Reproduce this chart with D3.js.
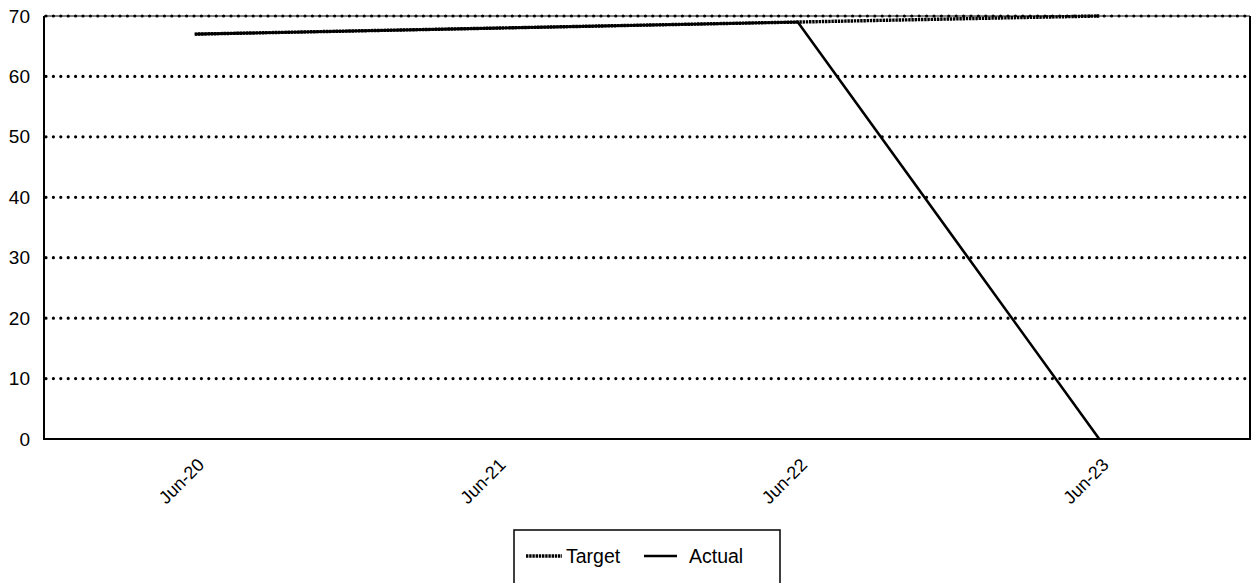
<!DOCTYPE html>
<html>
<head>
<meta charset="utf-8">
<script src="https://cdn.jsdelivr.net/npm/d3@7"></script>
<style>
  html, body { margin: 0; padding: 0; background: #fff; }
  svg text { font-family: "Liberation Sans", Arial, sans-serif; fill: #000; }
</style>
</head>
<body>
<svg id="chart" width="1256" height="583"></svg>
<script>
// Monthly periods on the category axis
const periods = ["Jun-20", "Jun-21", "Jun-22", "Jun-23"];
// Series values
const targetValues = [67, 68, 69, 70];
const actualValues = [67, 68, 69, 0];
// Value axis ticks
const yTicks = [0, 10, 20, 30, 40, 50, 60, 70];

const svg = d3.select("#chart");
const plot = { left: 44, right: 1250, top: 16, bottom: 439 };

const x = d3.scalePoint().domain(periods).range([plot.left, plot.right]).padding(0.5);
const y = d3.scaleLinear().domain([0, 70]).range([plot.bottom, plot.top]);

// Dotted horizontal gridlines
const grid = svg.append("g");
grid.append("line")
  .attr("x1", plot.left).attr("x2", plot.right)
  .attr("y1", y(70)).attr("y2", y(70))
  .attr("stroke", "#000").attr("stroke-width", 1);
grid.selectAll("line.g").data(yTicks.filter(d => d > 0)).join("line")
  .attr("class", "g")
  .attr("x1", plot.left + 2).attr("x2", plot.right)
  .attr("y1", d => y(d)).attr("y2", d => y(d))
  .attr("stroke", "#000").attr("stroke-width", 3.2)
  .attr("stroke-linecap", "round")
  .attr("stroke-dasharray", "0 7.4");

// Axis frame: left, bottom and right edges
const frame = svg.append("g").attr("stroke", "#000").attr("stroke-width", 2).attr("fill", "none");
frame.append("path").attr("d", `M${plot.left},${plot.top}V${plot.bottom}H${plot.right}V${plot.top}`);

// Y axis labels
const yAxis = d3.axisLeft(y).tickValues(yTicks).tickSize(0).tickPadding(14);
const yG = svg.append("g").attr("transform", `translate(${plot.left},0)`).call(yAxis);
yG.select(".domain").remove();
yG.selectAll("text").attr("font-size", 19).attr("font-family", "Liberation Sans, Arial, sans-serif").attr("fill", "#000");

// X axis labels, rotated
const xAxis = d3.axisBottom(x).tickSize(0).tickPadding(0);
const xG = svg.append("g").attr("transform", `translate(0,${plot.bottom})`).call(xAxis);
xG.select(".domain").remove();
xG.selectAll("text")
  .attr("font-size", 18)
  .attr("font-family", "Liberation Sans, Arial, sans-serif")
  .attr("fill", "#000")
  .attr("text-anchor", "end")
  .attr("dy", null)
  .attr("y", 0)
  .attr("transform", "translate(10,27) rotate(-45)");

// Lines
const line = d3.line().x((d, i) => x(periods[i])).y(d => y(d));
svg.append("path").datum(actualValues)
  .attr("d", line).attr("fill", "none")
  .attr("stroke", "#000").attr("stroke-width", 2.6);
svg.append("path").datum(targetValues)
  .attr("d", line).attr("fill", "none")
  .attr("stroke", "#000").attr("stroke-width", 3.4)
  .attr("stroke-dasharray", "2.4 0.8");

// Legend
const lg = svg.append("g");
lg.append("rect").attr("x", 514).attr("y", 530).attr("width", 266).attr("height", 70)
  .attr("fill", "#fff").attr("stroke", "#000").attr("stroke-width", 1.5);
const items = [
  { name: "Target", dash: "2.4 0.8", width: 3.4, x1: 526, x2: 562, tx: 566 },
  { name: "Actual", dash: null, width: 2.6, x1: 644, x2: 677, tx: 689 }
];
items.forEach(it => {
  lg.append("line").attr("x1", it.x1).attr("x2", it.x2).attr("y1", 556).attr("y2", 556)
    .attr("stroke", "#000").attr("stroke-width", it.width)
    .attr("stroke-dasharray", it.dash);
  lg.append("text").attr("x", it.tx).attr("y", 563).attr("font-size", 19.5).text(it.name);
});
</script>
</body>
</html>
